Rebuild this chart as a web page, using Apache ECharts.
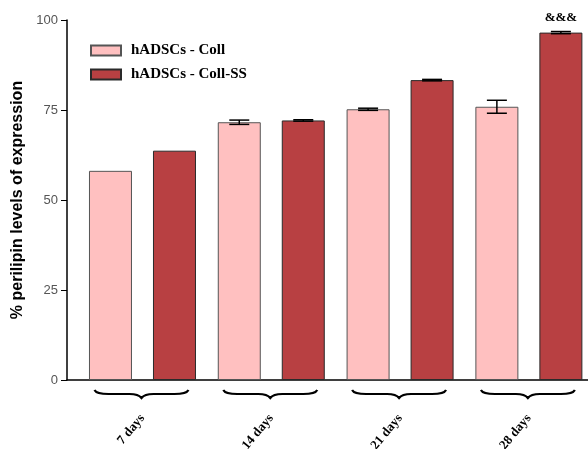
<!DOCTYPE html>
<html>
<head>
<meta charset="utf-8">
<script src="https://cdn.jsdelivr.net/npm/echarts@6/dist/echarts.min.js"></script>
<style>html,body{margin:0;padding:0;background:#fff}#c{width:588px;height:449px}</style>
</head>
<body>
<div id="c"></div>
<script>
var categories = ['7 days', '14 days', '21 days', '28 days'];
var seriesNames = ['hADSCs - Coll', 'hADSCs - Coll-SS'];
var collValues = [58.1, 71.6, 75.2, 75.9];
var collErrors = [0, 0.6, 0.3, 1.8];
var collSSValues = [63.7, 72.1, 83.3, 96.5];
var collSSErrors = [0, 0.2, 0.2, 0.3];
var collSSAnnotations = ['', '', '', '&&&'];
var yTicks = [0, 25, 50, 75, 100];

var BAR_W = 43, BAR_GAP = 21;
var OFF = (BAR_W + BAR_GAP) / 2;

function barData(vals, notes) {
  return vals.map(function (v, i) {
    var d = { value: [i, v] };
    if (notes && notes[i]) {
      d.label = { show: true, position: 'top', distance: 8, formatter: notes[i],
        fontFamily: 'Liberation Serif', fontWeight: 'bold', fontSize: 13, color: '#000' };
    }
    return d;
  });
}
function errData(vals, errs) {
  return vals.map(function (v, i) { return [i, v, errs[i]]; });
}
function errRender(offset) {
  return function (params, api) {
    var x = api.value(0), m = api.value(1), e = api.value(2);
    if (!e) return null;
    var hi = api.coord([x, m + e]), lo = api.coord([x, m - e]);
    var cx = hi[0] + offset;
    var st = { stroke: '#000', lineWidth: 1.5 };
    return { type: 'group', children: [
      { type: 'line', shape: { x1: cx, y1: hi[1], x2: cx, y2: lo[1] }, style: st },
      { type: 'line', shape: { x1: cx - 10, y1: hi[1], x2: cx + 10, y2: hi[1] }, style: st },
      { type: 'line', shape: { x1: cx - 10, y1: lo[1], x2: cx + 10, y2: lo[1] }, style: st }
    ]};
  };
}
function braceRender(params, api) {
  var p = api.coord([api.value(0), 0]);
  var cx = p[0] - 1, y0 = p[1] + 10, y1 = p[1] + 14, y2 = p[1] + 18, h = 47;
  var d = 'M' + (cx - h) + ' ' + y0 +
    ' Q' + (cx - h + 2) + ' ' + y1 + ' ' + (cx - h + 14) + ' ' + y1 +
    ' L' + (cx - 12) + ' ' + y1 +
    ' Q' + (cx - 3) + ' ' + y1 + ' ' + cx + ' ' + y2 +
    ' Q' + (cx + 3) + ' ' + y1 + ' ' + (cx + 12) + ' ' + y1 +
    ' L' + (cx + h - 14) + ' ' + y1 +
    ' Q' + (cx + h - 2) + ' ' + y1 + ' ' + (cx + h) + ' ' + y0;
  return { type: 'path', shape: { pathData: d }, style: { stroke: '#000', lineWidth: 2.2, fill: null } };
}

var chart = echarts.init(document.getElementById('c'), null, { renderer: 'canvas' });
chart.setOption({
  animation: false,
  backgroundColor: '#fff',
  grid: { left: 67, right: 0, top: 20, bottom: 69, containLabel: false, outerBoundsMode: 'none' },
  legend: {
    left: 90, top: 43, padding: 0, orient: 'vertical', itemGap: 9,
    itemWidth: 30, itemHeight: 10, icon: 'rect',
    data: seriesNames,
    textStyle: { fontFamily: 'Liberation Serif', fontWeight: 'bold', fontSize: 15, color: '#000', padding: [0, 0, 0, 5] }
  },
  xAxis: {
    type: 'value', min: -0.586, max: 3.459,
    splitLine: { show: false },
    axisLine: { show: true, onZero: false, lineStyle: { color: '#000', width: 1.5 } },
    axisTick: { show: false },
    axisLabel: {
      customValues: [0, 1, 2, 3],
      formatter: function (v) { return categories[Math.round(v)]; },
      rotate: 50, margin: 36,
      fontFamily: 'Liberation Serif', fontWeight: 'bold', fontSize: 13, color: '#000'
    }
  },
  yAxis: {
    type: 'value', min: 0, max: 100, interval: 25,
    name: '% perilipin levels of expression', nameLocation: 'middle', nameGap: 41,
    nameTextStyle: { fontFamily: 'Liberation Sans', fontWeight: 'bold', fontSize: 16, color: '#000' },
    splitLine: { show: false },
    axisLine: { show: true, onZero: false, lineStyle: { color: '#000', width: 1.5 } },
    axisTick: { show: true, length: 6, lineStyle: { color: '#000', width: 1 } },
    axisLabel: {
      customValues: yTicks, margin: 9,
      fontFamily: 'Liberation Sans', fontSize: 13, color: '#555'
    }
  },
  series: [
    { name: seriesNames[0], type: 'bar', barWidth: BAR_W, barGap: (BAR_GAP / BAR_W * 100) + '%',
      itemStyle: { color: '#FFC0C0', borderColor: '#555', borderWidth: 1 },
      data: barData(collValues) },
    { name: seriesNames[1], type: 'bar', barWidth: BAR_W, barGap: (BAR_GAP / BAR_W * 100) + '%',
      itemStyle: { color: '#B84042', borderColor: '#2a2a2a', borderWidth: 1 },
      data: barData(collSSValues, collSSAnnotations) },
    { type: 'custom', renderItem: errRender(-OFF), data: errData(collValues, collErrors), z: 5, clip: false, silent: true },
    { type: 'custom', renderItem: errRender(OFF), data: errData(collSSValues, collSSErrors), z: 5, clip: false, silent: true },
    { type: 'custom', renderItem: braceRender, data: categories.map(function (c, i) { return [i, 0]; }), z: 5, clip: false, silent: true }
  ]
});
</script>
</body>
</html>
